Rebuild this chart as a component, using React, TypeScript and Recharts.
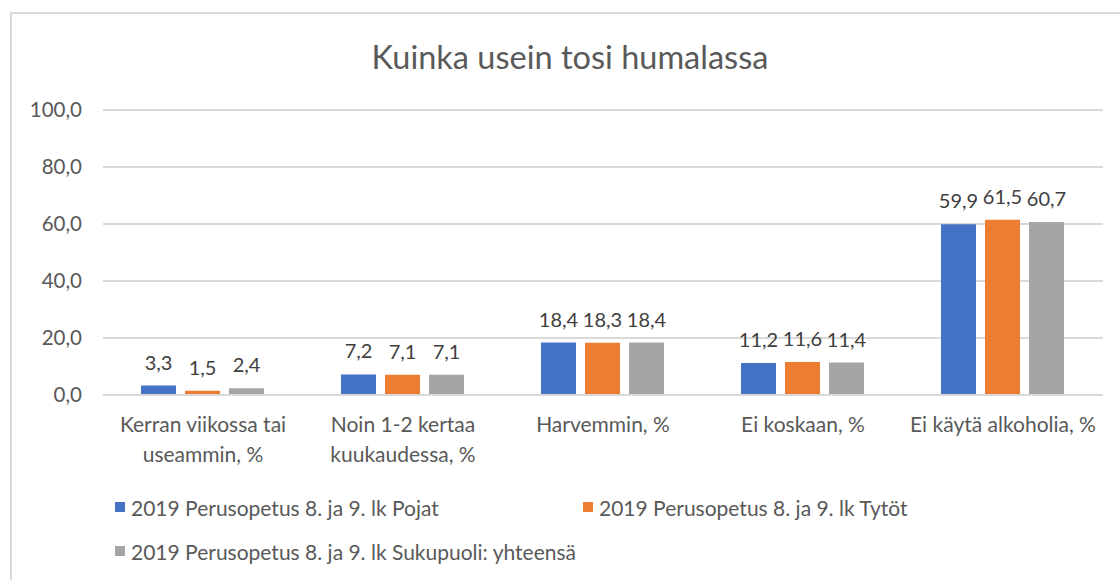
import React from "react";
import { BarChart, Bar, XAxis, YAxis, CartesianGrid, LabelList } from "recharts";

const categories = [
  "Kerran viikossa tai\nuseammin, %",
  "Noin 1-2 kertaa\nkuukaudessa, %",
  "Harvemmin, %",
  "Ei koskaan, %",
  "Ei käytä alkoholia, %",
];
const pojat = [3.3, 7.2, 18.4, 11.2, 59.9];
const tytot = [1.5, 7.1, 18.3, 11.6, 61.5];
const yhteensa = [2.4, 7.1, 18.4, 11.4, 60.7];
const yTicks = [0, 20, 40, 60, 80, 100];
const seriesNames = [
  "2019 Perusopetus 8. ja 9. lk Pojat",
  "2019 Perusopetus 8. ja 9. lk Tytöt",
  "2019 Perusopetus 8. ja 9. lk Sukupuoli: yhteensä",
];
const colors = ["#4472C4", "#ED7D31", "#A5A5A5"];
const title = "Kuinka usein tosi humalassa";

const data = categories.map((c, i) => ({
  name: c,
  pojat: pojat[i],
  tytot: tytot[i],
  yhteensa: yhteensa[i],
}));

const FONT = "Lato, 'Open Sans', sans-serif";
const TEXT = "#595959";
const fmt = (v: number) => v.toFixed(1).replace(".", ",");

const XTick = (props: any) => {
  const { x, y, payload } = props;
  const lines = String(payload.value).split("\n");
  return (
    <g>
      {lines.map((l: string, i: number) => (
        <text
          key={i}
          x={x}
          y={y + 29 + i * 30}
          textAnchor="middle"
          fill={TEXT}
          fontSize={21}
          fontFamily={FONT}
        >
          {l}
        </text>
      ))}
    </g>
  );
};

export default function App() {
  const keys = ["pojat", "tytot", "yhteensa"];
  return (
    <div style={{ position: "absolute", left: 0, top: 0, width: 1120, height: 580, background: "#fff", overflow: "hidden" }}>
      <div
        style={{
          position: "absolute",
          left: 10,
          top: 12,
          width: 1120,
          height: 600,
          border: "2px solid #D9D9D9",
          boxSizing: "border-box",
        }}
      />
      <div
        style={{
          position: "absolute",
          left: 0,
          top: 37,
          width: 1140,
          textAlign: "center",
          fontFamily: FONT,
          fontSize: 32.5,
          lineHeight: "40px",
          color: TEXT,
        }}
      >
        {title}
      </div>
      <div style={{ position: "absolute", left: 0, top: 0 }}>
        <BarChart
          width={1120}
          height={580}
          data={data}
          margin={{ top: 110, right: 17, bottom: 0, left: 0 }}
          barCategoryGap="19%"
          barGap={9}
        >
          <CartesianGrid vertical={false} stroke="#D9D9D9" strokeWidth={2} />
          <XAxis
            dataKey="name"
            height={185}
            axisLine={{ stroke: "#D9D9D9", strokeWidth: 2 }}
            tickLine={false}
            tick={<XTick />}
            interval={0}
          />
          <YAxis
            width={103}
            domain={[0, 100]}
            ticks={yTicks}
            axisLine={false}
            tickLine={false}
            tickSize={0}
            tickMargin={21}
            tickFormatter={fmt}
            tick={{ fill: TEXT, fontSize: 20.5, fontFamily: FONT }}
          />
          {keys.map((k, i) => (
            <Bar key={k} dataKey={k} fill={colors[i]} isAnimationActive={false}>
              <LabelList
                dataKey={k}
                position="top"
                offset={16}
                formatter={(v: any) => fmt(Number(v))}
                style={{ fill: "#404040", fontSize: 20, fontFamily: FONT }}
              />
            </Bar>
          ))}
        </BarChart>
      </div>
      {seriesNames.map((n, i) => (
        <div
          key={n}
          style={{
            position: "absolute",
            left: i === 1 ? 583 : 115,
            top: i === 2 ? 538 : 494,
            height: 26,
            display: "flex",
            alignItems: "center",
            fontFamily: FONT,
            fontSize: 21,
            color: TEXT,
            whiteSpace: "nowrap",
          }}
        >
          <span style={{ display: "inline-block", width: 10, height: 10, background: colors[i], marginRight: 6 }} />
          {n}
        </div>
      ))}
    </div>
  );
}
